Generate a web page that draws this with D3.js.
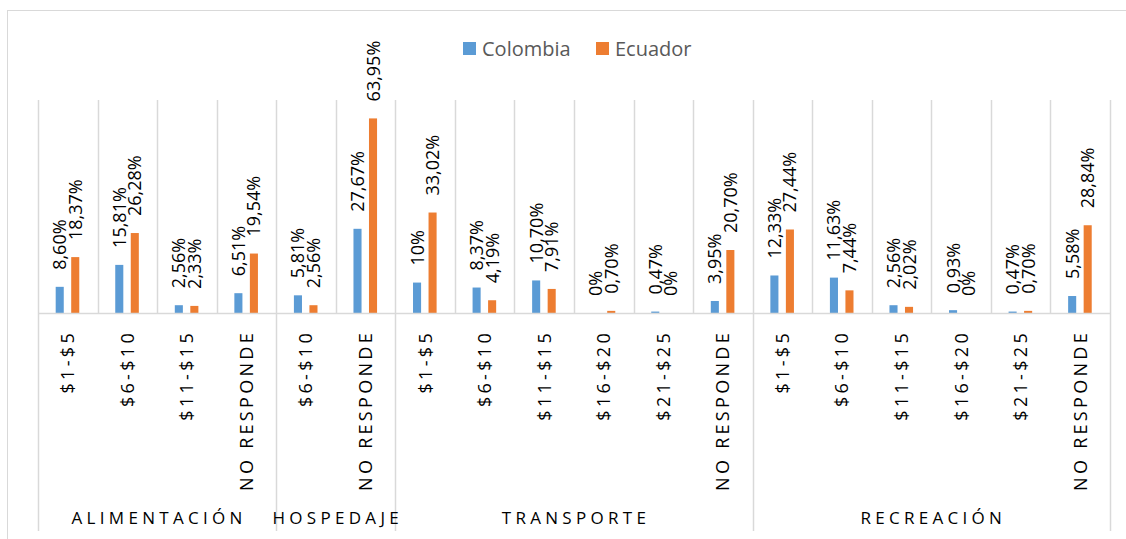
<!DOCTYPE html>
<html>
<head>
<meta charset="utf-8">
<script src="https://cdn.jsdelivr.net/npm/d3@7"></script>
<style>
  body { margin: 0; background: #fff; }
  svg { display: block; font-family: "Open Sans", "Noto Sans", sans-serif; }
</style>
</head>
<body>
<svg id="chart"></svg>
<script>
// data
var groups = ["ALIMENTACIÓN", "HOSPEDAJE", "TRANSPORTE", "RECREACIÓN"];
var groupOf = [0, 0, 0, 0, 1, 1, 2, 2, 2, 2, 2, 2, 3, 3, 3, 3, 3, 3];
var subLabels = ["$1-$5", "$6-$10", "$11-$15", "NO RESPONDE",
                 "$6-$10", "NO RESPONDE",
                 "$1-$5", "$6-$10", "$11-$15", "$16-$20", "$21-$25", "NO RESPONDE",
                 "$1-$5", "$6-$10", "$11-$15", "$16-$20", "$21-$25", "NO RESPONDE"];
var series = ["Colombia", "Ecuador"];
var colombia = [8.60, 15.81, 2.56, 6.51, 5.81, 27.67, 10, 8.37, 10.70, 0, 0.47, 3.95, 12.33, 11.63, 2.56, 0.93, 0.47, 5.58];
var ecuador  = [18.37, 26.28, 2.33, 19.54, 2.56, 63.95, 33.02, 4.19, 7.91, 0.70, 0, 20.70, 27.44, 7.44, 2.02, 0, 0.70, 28.84];
var colors = ["#5B9BD5", "#ED7D31"];

var W = 1126, H = 539;
var plot = {left: 38, right: 1110, top: 100, base: 313, bottom: 531};
var gridColor = "#d9d9d9";

var svg = d3.select("#chart").attr("width", W).attr("height", H);

// outer chart border (only top & left visible in the crop)
svg.append("rect")
    .attr("x", 7.5).attr("y", 10.5)
    .attr("width", W + 20).attr("height", H + 20)
    .attr("fill", "none").attr("stroke", gridColor);

var idx = d3.range(subLabels.length);
var values = [colombia, ecuador];

var x0 = d3.scaleBand()
    .domain(idx)
    .range([plot.left, plot.right])
    .padding(0);
var bw = x0.bandwidth();

var x1 = d3.scaleBand()
    .domain(series)
    .range([bw * 0.297, bw * 0.693])
    .paddingInner(0.48);

var y = d3.scaleLinear()
    .domain([0, 70])
    .range([plot.base, plot.top]);

// vertical gridlines between categories
svg.append("g").selectAll("line")
    .data(d3.range(subLabels.length + 1))
    .enter().append("line")
    .attr("x1", function(d) { return Math.round(plot.left + d * bw) + 0.5; })
    .attr("x2", function(d) { return Math.round(plot.left + d * bw) + 0.5; })
    .attr("y1", plot.top).attr("y2", plot.base)
    .attr("stroke", gridColor).attr("stroke-width", 1.5);

// group dividers under the axis
var groupBounds = [0];
groups.forEach(function(g, gi) {
    groupBounds.push(groupOf.lastIndexOf(gi) + 1);
});
svg.append("g").selectAll("line")
    .data(groupBounds)
    .enter().append("line")
    .attr("x1", function(d) { return Math.round(plot.left + d * bw) + 0.5; })
    .attr("x2", function(d) { return Math.round(plot.left + d * bw) + 0.5; })
    .attr("y1", plot.base).attr("y2", plot.bottom)
    .attr("stroke", gridColor).attr("stroke-width", 1.5);

// bars
var cat = svg.append("g").selectAll("g")
    .data(idx)
    .enter().append("g")
    .attr("transform", function(i) { return "translate(" + x0(i) + ",0)"; });

function fmt(v) {
    if (v === Math.round(v)) return v + "%";
    return v.toFixed(2).replace(".", ",") + "%";
}

series.forEach(function(s, si) {
    cat.append("rect")
        .attr("x", x1(s))
        .attr("width", x1.bandwidth())
        .attr("y", function(i) { return y(values[si][i]); })
        .attr("height", function(i) { return plot.base - y(values[si][i]); })
        .attr("fill", colors[si]);

    cat.append("text")
        .attr("transform", function(i) {
            return "translate(" + (x1(s) + x1.bandwidth() / 2) + "," + (y(values[si][i]) - 17) + ") rotate(-90)";
        })
        .attr("dy", "0.36em")
        .attr("font-size", 18)
        .attr("fill", "#000")
        .text(function(i) { return fmt(values[si][i]); });
});

// category axis
var axis = svg.append("g")
    .attr("transform", "translate(0," + plot.base + ")")
    .call(d3.axisBottom(x0)
        .tickSize(0)
        .tickFormat(function(i) { return subLabels[i]; }));
axis.select(".domain").attr("stroke", gridColor).attr("stroke-width", 1.5);
axis.selectAll(".tick text")
    .attr("transform", "rotate(-90)")
    .attr("x", -17)
    .attr("y", 0)
    .attr("dy", "0.36em")
    .attr("text-anchor", "end")
    .attr("font-family", "'Open Sans', sans-serif")
    .attr("font-size", 18)
    .attr("letter-spacing", "3.3px")
    .attr("fill", "#000");

// group labels
svg.append("g").selectAll("text")
    .data(groups)
    .enter().append("text")
    .attr("x", function(g, gi) {
        return plot.left + (groupBounds[gi] + groupBounds[gi + 1]) / 2 * bw + 2;
    })
    .attr("y", 524)
    .attr("text-anchor", "middle")
    .attr("font-size", 17)
    .attr("letter-spacing", "4.3px")
    .attr("fill", "#000")
    .text(function(g) { return g; });

// legend
var legendX = [463, 596];
var legend = svg.append("g").selectAll("g")
    .data(series)
    .enter().append("g")
    .attr("transform", function(s, si) { return "translate(" + legendX[si] + ",42)"; });
legend.append("rect")
    .attr("width", 13).attr("height", 13)
    .attr("fill", function(s, si) { return colors[si]; });
legend.append("text")
    .attr("x", 19).attr("y", 13.5)
    .attr("font-size", 20)
    .attr("fill", "#595959")
    .text(function(s) { return s; });
</script>
</body>
</html>
